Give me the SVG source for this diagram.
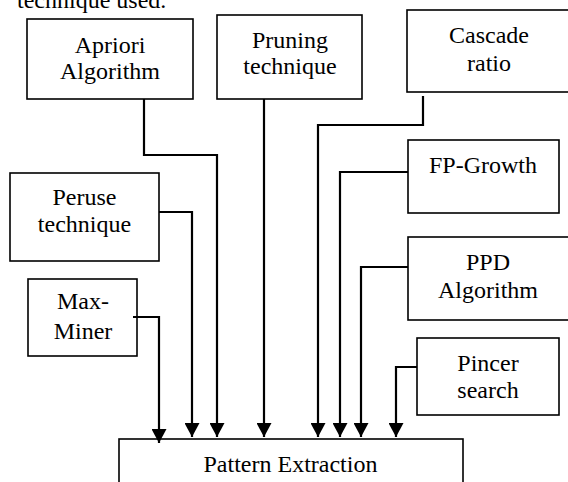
<svg xmlns="http://www.w3.org/2000/svg" width="568" height="482" viewBox="0 0 568 482">
<style>
.box{fill:#fff;stroke:#000;stroke-width:1.6}
.lbl{font-family:"Liberation Serif","Times New Roman",serif;font-size:24px;fill:#000;text-anchor:middle}
.con{fill:none;stroke:#000;stroke-width:2.2;marker-end:url(#arr)}
</style>
<defs>
<marker id="arr" markerUnits="userSpaceOnUse" markerWidth="15" markerHeight="15" viewBox="0 0 14 15" refX="14" refY="7.5" orient="auto">
<path d="M0,0 L14,7.5 L0,15 z" fill="#000"/>
</marker>
</defs>
<text class="lbl" x="17" y="8" style="text-anchor:start">technique used.</text>
<g id="apriori"><rect class="box" x="27" y="19" width="166" height="80"/><text class="lbl" x="110" y="53">Apriori</text><text class="lbl" x="110" y="79">Algorithm</text></g>
<g id="pruning"><rect class="box" x="217" y="15" width="145" height="84"/><text class="lbl" x="290" y="48">Pruning</text><text class="lbl" x="290" y="74">technique</text></g>
<g id="cascade"><rect class="box" x="407" y="10" width="175" height="82"/><text class="lbl" x="489" y="43">Cascade</text><text class="lbl" x="489" y="71">ratio</text></g>
<g id="fpgrowth"><rect class="box" x="408" y="140" width="151" height="73"/><text class="lbl" x="483" y="173">FP-Growth</text></g>
<g id="ppd"><rect class="box" x="408" y="237" width="175" height="83"/><text class="lbl" x="488" y="270">PPD</text><text class="lbl" x="488" y="298">Algorithm</text></g>
<g id="pincer"><rect class="box" x="417" y="338" width="142" height="77"/><text class="lbl" x="488" y="371">Pincer</text><text class="lbl" x="488" y="398">search</text></g>
<g id="peruse"><rect class="box" x="10" y="173" width="149" height="88"/><text class="lbl" x="84.5" y="205">Peruse</text><text class="lbl" x="84.5" y="232">technique</text></g>
<g id="maxminer"><rect class="box" x="28" y="279" width="109" height="77"/><text class="lbl" x="83" y="309">Max-</text><text class="lbl" x="83" y="339">Miner</text></g>
<g id="pattern"><rect class="box" x="119" y="439" width="344" height="60"/><text class="lbl" x="290.5" y="472">Pattern Extraction</text></g>
<g id="connectors">
<path class="con" d="M144,99 V155 H217 V437"/>
<path class="con" d="M264,99 V437"/>
<path class="con" d="M423,96 V125 H318 V437"/>
<path class="con" d="M408,172 H340 V437"/>
<path class="con" d="M408,267 H361 V437"/>
<path class="con" d="M417,367 H396 V437"/>
<path class="con" d="M159,212 H192 V437"/>
<path class="con" d="M133,317 H159 V443"/>
</g>
</svg>
